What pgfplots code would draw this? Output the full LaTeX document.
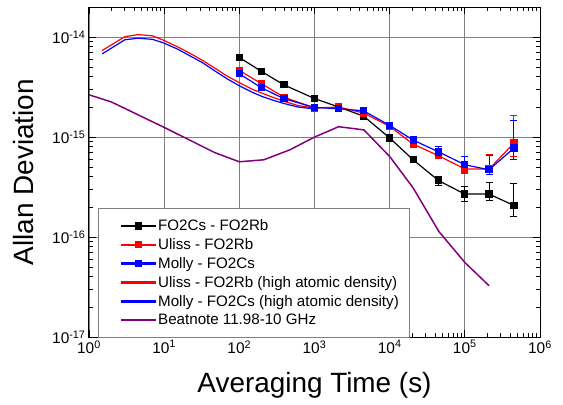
\documentclass[border=0pt]{standalone}
\usepackage{fontspec}
\setmainfont{Liberation Sans}
\usepackage{pgfplots}
\pgfplotsset{compat=1.18}
\definecolor{myred}{RGB}{255,0,0}
\definecolor{myblue}{RGB}{0,0,255}
\definecolor{mypurple}{RGB}{128,0,128}
\pgfplotsset{
  markleg/.style={legend image code/.code={\path (-13bp,0bp); \fill[#1] (0bp,-0.65bp) rectangle (34bp,0.65bp); \fill[#1] (14bp,-3bp) rectangle (20bp,3bp);}},
  lineleg/.style={legend image code/.code={\path (-13bp,0bp); \fill[#1] (0bp,-0.65bp) rectangle (34bp,0.65bp);}},
}
\begin{document}
\begin{tikzpicture}
\begin{axis}[
  at={(0,0)}, anchor=south west,
  scale only axis, width=451bp, height=330bp,
  xmode=log, ymode=log,
  xmin=1, xmax=1e6, ymin=1e-17, ymax=2e-14,
  xtick={1,10,100,1000,10000,100000,1000000},
  xticklabels={10\textsuperscript{0},10\textsuperscript{1},10\textsuperscript{2},10\textsuperscript{3},10\textsuperscript{4},10\textsuperscript{5},10\textsuperscript{6}},
  ytick={1e-17,1e-16,1e-15,1e-14},
  yticklabels={10\textsuperscript{-17},10\textsuperscript{-16},10\textsuperscript{-15},10\textsuperscript{-14}},
  tick align=inside,
  major tick length=7bp, minor tick length=4bp,
  grid=major, major grid style={gray, line width=0.7bp},
  axis line style={line width=1bp},
  every tick/.style={black, line width=0.8bp},
  ticklabel style={font=\fontsize{15.5}{15.5}\selectfont},
  xlabel={Averaging Time (s)}, ylabel={Allan Deviation},
  label style={font=\fontsize{28}{28}\selectfont},
  xlabel style={at={(axis description cs:0.5,-0.145)}, anchor=center},
  ylabel style={at={(axis description cs:-0.146,0.5)}, anchor=center},
  legend style={at={(axis description cs:0.0206,0.39)}, anchor=north west,
    draw=gray, line width=0.8bp, fill=white,
    font=\fontsize{15.2}{15.2}\selectfont, row sep=2.4bp, inner xsep=9bp, inner ysep=9bp,
    cells={anchor=west}},
]
\addplot[black, line width=1.2bp, mark=square*, mark size=3bp, mark options={solid, fill=black}, markleg=black,
  error bars/.cd, y dir=both, y explicit,
  error bar style={line width=1bp, black},
  error mark options={rotate=90, mark size=3.5bp, line width=1bp, black}]
  coordinates {
  (100,6.25e-15) +- (0,0.1e-15)
  (198,4.53e-15) +- (0,0.08e-15)
  (392,3.33e-15) +- (0,0.06e-15)
  (1000,2.43e-15) +- (0,0.05e-15)
  (2090,2.0e-15) +- (0,0.04e-15)
  (4500,1.62e-15) +- (0,0.04e-15)
  (1e4,9.8e-16) +- (0,0.3e-16)
  (2.05e4,5.93e-16) +- (0,0.2e-16)
  (4.5e4,3.66e-16) +- (0,0.35e-16)
  (1e5,2.69e-16) += (0,0.49e-16) -= (0,0.42e-16)
  (2.1e5,2.69e-16) += (0,0.83e-16) -= (0,0.38e-16)
  (4.5e5,2.07e-16) += (0,1.40e-16) -= (0,0.46e-16)
  };
\addlegendentry{FO2Cs - FO2Rb}
\addplot[color=myred, line width=1.2bp, mark=square*, mark size=3bp, mark options={solid, fill=myred}, markleg=myred,
  error bars/.cd, y dir=both, y explicit,
  error bar style={line width=1bp, myred},
  error mark options={rotate=90, mark size=3.5bp, line width=1bp, myred}]
  coordinates {
  (100,4.64e-15) +- (0,0.08e-15)
  (198,3.41e-15) +- (0,0.06e-15)
  (392,2.51e-15) +- (0,0.05e-15)
  (1000,1.95e-15) +- (0,0.04e-15)
  (2090,2.0e-15) +- (0,0.04e-15)
  (4500,1.74e-15) +- (0,0.04e-15)
  (1e4,1.28e-15) +- (0,0.04e-15)
  (2.05e4,8.5e-16) +- (0,0.35e-16)
  (4.5e4,6.5e-16) +- (0,0.4e-16)
  (1e5,4.79e-16) += (0,0.62e-16) -= (0,0.49e-16)
  (2.1e5,4.79e-16) += (0,1.86e-16) -= (0,0.52e-16)
  (4.5e5,8.71e-16) += (0,7.7e-16) -= (0,2.3e-16)
  };
\addlegendentry{Uliss - FO2Rb}
\addplot[color=myblue, line width=1.2bp, mark=square*, mark size=3bp, mark options={solid, fill=myblue}, markleg=myblue,
  error bars/.cd, y dir=both, y explicit,
  error bar style={line width=1bp, myblue},
  error mark options={rotate=90, mark size=3.5bp, line width=1bp, myblue}]
  coordinates {
  (100,4.29e-15) +- (0,0.08e-15)
  (198,3.11e-15) +- (0,0.06e-15)
  (392,2.42e-15) +- (0,0.05e-15)
  (1000,1.98e-15) +- (0,0.04e-15)
  (2090,1.92e-15) +- (0,0.04e-15)
  (4500,1.83e-15) +- (0,0.05e-15)
  (1e4,1.31e-15) +- (0,0.05e-15)
  (2.05e4,9.33e-16) +- (0,0.45e-16)
  (4.5e4,7.1e-16) += (0,1.0e-16) -= (0,0.6e-16)
  (1e5,5.29e-16) += (0,1.11e-16) -= (0,0.86e-16)
  (2.1e5,4.71e-16) += (0,1.79e-16) -= (0,0.44e-16)
  (4.5e5,7.76e-16) += (0,6.9e-16) -= (0,1.83e-16)
  };
\addlegendentry{Molly - FO2Cs}
\addplot[color=myred, line width=1.2bp, no marks, lineleg=myred] coordinates {
  (1.5,7.35e-15) (3,1.01e-14) (4.5,1.06e-14) (7,1.03e-14) (10,9.25e-15)
  (15,8.0e-15) (22,6.9e-15) (33,5.8e-15) (47,4.9e-15) (68,4.1e-15)
  (100,3.5e-15) (150,3.0e-15) (200,2.75e-15) (300,2.45e-15) (400,2.27e-15)
  (600,2.07e-15) (1000,1.95e-15)
  };
\addlegendentry{Uliss - FO2Rb (high atomic density)}
\addplot[color=myblue, line width=1.2bp, no marks, lineleg=myblue] coordinates {
  (1.5,6.8e-15) (3,9.4e-15) (4.5,9.75e-15) (7,9.5e-15) (10,8.7e-15)
  (15,7.6e-15) (22,6.5e-15) (33,5.5e-15) (47,4.6e-15) (68,3.85e-15)
  (100,3.26e-15) (150,2.8e-15) (200,2.55e-15) (300,2.3e-15) (400,2.16e-15)
  (600,2.0e-15) (1000,1.91e-15)
  };
\addlegendentry{Molly - FO2Cs (high atomic density)\hspace{14bp}}
\addplot[color=mypurple, line width=1.5bp, no marks, lineleg=mypurple] coordinates {
  (1,2.65e-15) (2,2.24e-15) (10,1.25e-15) (47,7.0e-16) (100,5.66e-16)
  (212,5.93e-16) (471,7.46e-16) (1000,1.0e-15) (2090,1.27e-15) (4540,1.18e-15)
  (1e4,6.4e-16) (2.06e4,3.09e-16) (4.5e4,1.14e-16) (1e5,5.57e-17) (2.1e5,3.26e-17)
  };
\addlegendentry{Beatnote 11.98-10 GHz}
\end{axis}
\pgfresetboundingbox
\path (-89bp,-68bp) rectangle (474bp,337bp);
\end{tikzpicture}
\end{document}
